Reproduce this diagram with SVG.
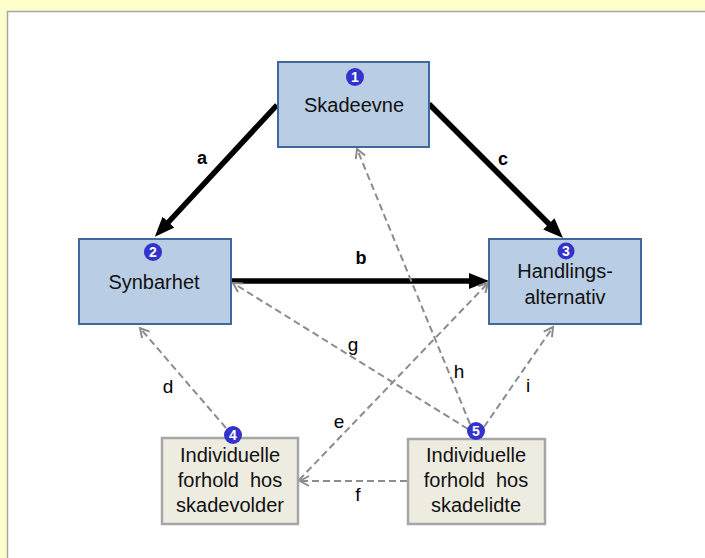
<svg xmlns="http://www.w3.org/2000/svg" width="705" height="558" viewBox="0 0 705 558">
<defs>
<style>
.bg{fill:#ffffcc}
.panel{fill:#ffffff}
.pborder{stroke:#a6a6a6;stroke-width:1.5;fill:none}
.blue{fill:#b9cde5;stroke:#41689c;stroke-width:2}
.gray{fill:#eeece1;stroke:#a6a6a6;stroke-width:2.5}
.t{font-family:"Liberation Sans",Arial,sans-serif;font-size:20px;fill:#111111;text-anchor:middle}
.badge{fill:#3333cc}
.bn{font-family:"Liberation Sans",Arial,sans-serif;font-size:14px;font-weight:bold;fill:#ffffff;text-anchor:middle}
.thick{stroke:#000000;stroke-width:5.5;fill:none}
.dash{stroke:#8c8c8c;stroke-width:2;stroke-dasharray:7 4;fill:none}
.lb{font-family:"Liberation Sans",Arial,sans-serif;font-size:18px;font-weight:bold;fill:#000;text-anchor:middle}
.lr{font-family:"Liberation Sans",Arial,sans-serif;font-size:19px;fill:#000;text-anchor:middle}
</style>
<marker id="hThick" viewBox="0 0 20 16" markerWidth="20" markerHeight="16" refX="8" refY="8" markerUnits="userSpaceOnUse" orient="auto">
<path d="M0,0 L20,8 L0,16 z" fill="#000000"/>
</marker>
<marker id="hOpen" viewBox="-1 -1 12 12" markerWidth="12" markerHeight="12" refX="9" refY="5" markerUnits="userSpaceOnUse" orient="auto">
<path d="M0,0 L9,5 L0,10" fill="none" stroke="#8c8c8c" stroke-width="2"/>
</marker>
</defs>
<rect class="bg" x="0" y="0" width="705" height="558"/>
<rect class="panel" x="7" y="11" width="698" height="547"/>
<path class="pborder" d="M7.5,558 L7.5,11.5 L705,11.5"/>

<g id="connectors">
<line class="thick" x1="277" y1="105" x2="163" y2="228" marker-end="url(#hThick)"/>
<line class="thick" x1="429" y1="104" x2="554.5" y2="229.5" marker-end="url(#hThick)"/>
<line class="thick" x1="231" y1="281" x2="477" y2="281" marker-end="url(#hThick)"/>
<line class="dash" x1="226" y1="428" x2="140" y2="328" marker-end="url(#hOpen)"/>
<line class="dash" x1="299" y1="480" x2="488" y2="283" marker-end="url(#hOpen)"/>
<line class="dash" x1="407" y1="481" x2="300" y2="481" marker-end="url(#hOpen)"/>
<line class="dash" x1="468" y1="429" x2="233" y2="283" marker-end="url(#hOpen)"/>
<line class="dash" x1="470" y1="424" x2="357" y2="149" marker-end="url(#hOpen)"/>
<line class="dash" x1="484" y1="427" x2="553" y2="327" marker-end="url(#hOpen)"/>
<text class="lb" x="202" y="164">a</text>
<text class="lb" x="361" y="264">b</text>
<text class="lb" x="503" y="165">c</text>
<text class="lr" x="168" y="393">d</text>
<text class="lr" x="339" y="428">e</text>
<text class="lr" x="358" y="501">f</text>
<text class="lr" x="353" y="351">g</text>
<text class="lr" x="459" y="378">h</text>
<text class="lr" x="528" y="392">i</text>
</g>

<g id="node1">
<rect class="blue" x="278" y="62" width="151" height="85"/>
<circle class="badge" cx="355" cy="77" r="9"/>
<text class="bn" x="355" y="82">1</text>
<text class="t" x="354" y="112">Skadeevne</text>
</g>
<g id="node2">
<rect class="blue" x="79" y="239" width="152" height="85"/>
<circle class="badge" cx="153" cy="252" r="9"/>
<text class="bn" x="153" y="257">2</text>
<text class="t" x="154" y="289">Synbarhet</text>
</g>
<g id="node3">
<rect class="blue" x="489" y="239" width="152" height="85"/>
<circle class="badge" cx="566" cy="251" r="8.5"/>
<text class="bn" x="566" y="256">3</text>
<text class="t" x="565" y="278">Handlings-</text>
<text class="t" x="565" y="304">alternativ</text>
</g>
<g id="node4">
<rect class="gray" x="162" y="438" width="136" height="86"/>
<circle class="badge" cx="233" cy="435" r="9"/>
<text class="bn" x="233" y="440">4</text>
<text class="t" x="230" y="462">Individuelle</text>
<text class="t" x="230" y="487" xml:space="preserve">forhold  hos</text>
<text class="t" x="230" y="512">skadevolder</text>
</g>
<g id="node5">
<rect class="gray" x="408" y="439" width="137" height="85"/>
<circle class="badge" cx="476" cy="431" r="9"/>
<text class="bn" x="476" y="436">5</text>
<text class="t" x="476" y="462">Individuelle</text>
<text class="t" x="476" y="487" xml:space="preserve">forhold  hos</text>
<text class="t" x="476" y="512">skadelidte</text>
</g>
</svg>
